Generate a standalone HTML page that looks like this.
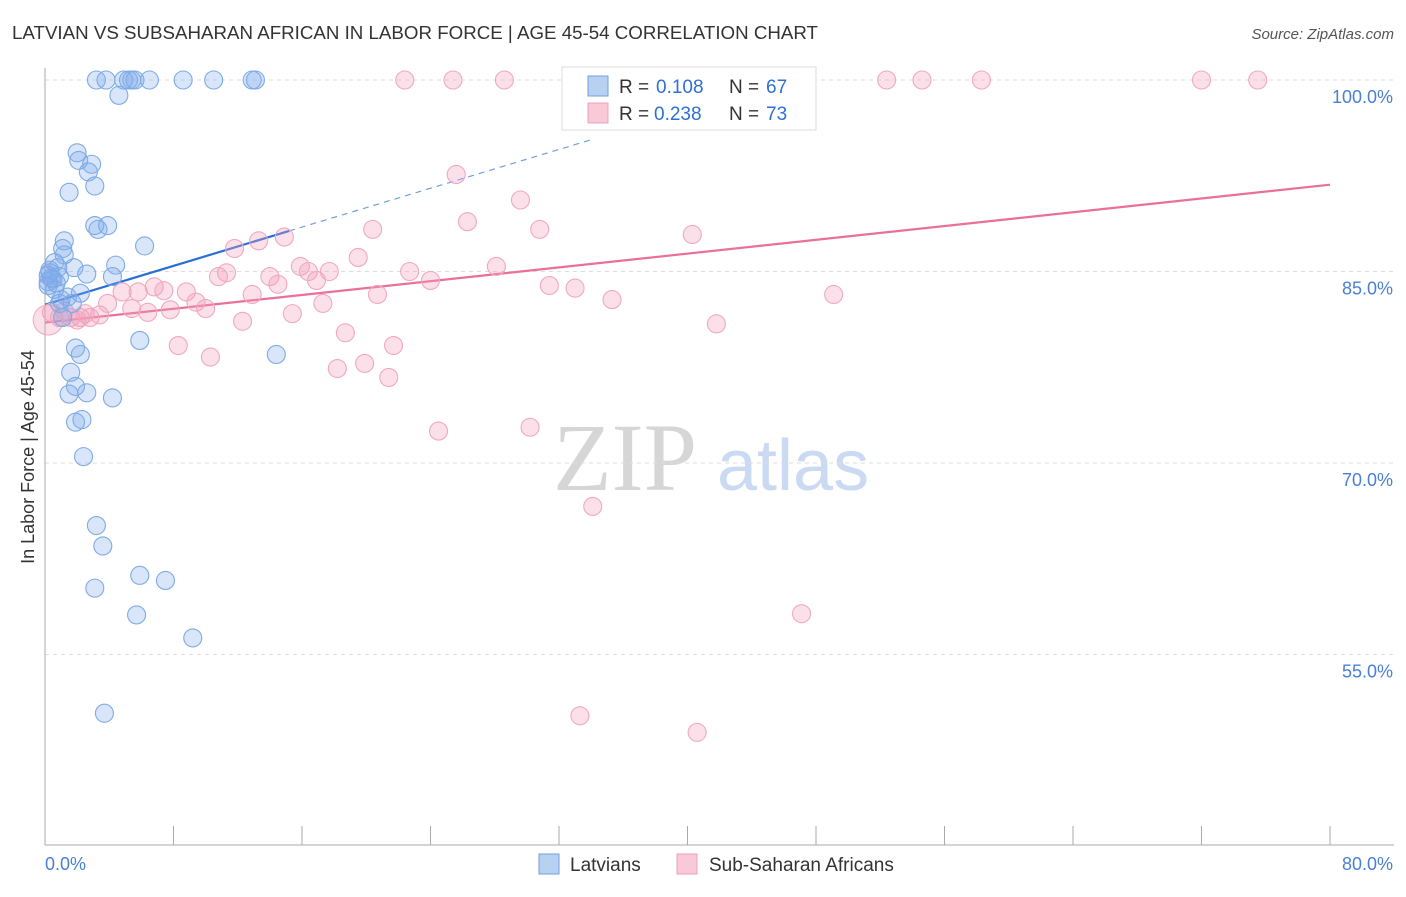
<!DOCTYPE html>
<html><head><meta charset="utf-8"><style>
body{margin:0;background:#fff;font-family:"Liberation Sans",sans-serif}
</style></head><body>
<svg id="chart" width="1406" height="892" xmlns="http://www.w3.org/2000/svg">
<text x="12" y="39" font-size="18" fill="#333" textLength="806" lengthAdjust="spacingAndGlyphs">LATVIAN VS SUBSAHARAN AFRICAN IN LABOR FORCE | AGE 45-54 CORRELATION CHART</text>
<text x="1394" y="39" font-size="15" fill="#555" font-style="italic" text-anchor="end">Source: ZipAtlas.com</text>
<text transform="translate(34,457) rotate(-90)" font-size="18" fill="#333" text-anchor="middle">In Labor Force | Age 45-54</text>
<g>
<text x="553" y="490" font-size="96" font-family="Liberation Serif,serif" fill="#d6d6d6">ZIP</text>
<text x="717" y="490" font-size="72" fill="#c9daf2">atlas</text>
</g>
<g id="grid"></g><g id="axes"></g><g id="lines"></g><g id="pts"></g>
<g>
<rect x="562" y="67" width="254" height="63" fill="#fff" stroke="#ddd"/>
<rect x="588" y="76" width="20" height="20" fill="#b8d1f3" stroke="#6fa0e0"/>
<rect x="588" y="103" width="20" height="20" fill="#f9c9d7" stroke="#eea0b8"/>
<g font-size="19">
<text x="619" y="93" fill="#333">R =</text><text x="656" y="93" fill="#2f6fd6">0.108</text>
<text x="729" y="93" fill="#333">N =</text><text x="766" y="93" fill="#2f6fd6">67</text></g>
<g font-size="19">
<text x="619" y="120" fill="#333">R =</text><text x="654" y="120" fill="#2f6fd6">0.238</text>
<text x="729" y="120" fill="#333">N =</text><text x="766" y="120" fill="#2f6fd6">73</text></g>
</g>
<g>
<rect x="539" y="854" width="20" height="20" fill="#b8d1f3" stroke="#6fa0e0"/>
<text x="570" y="871" font-size="19" fill="#333">Latvians</text>
<rect x="677" y="854" width="20" height="20" fill="#f9c9d7" stroke="#eea0b8"/>
<text x="709" y="871" font-size="19" fill="#333">Sub-Saharan Africans</text>
</g>
</svg>
<script>
const yTicks=[100,85,70,55];
const yTickLabels=["100.0%","85.0%","70.0%","55.0%"];
const xTicks=[0,8,16,24,32,40,48,56,64,72,80];
const xEndLabels=["0.0%","80.0%"];
const blueX=[3.2,3.8,4.9,5.2,5.4,5.6,6.5,8.6,10.5,12.9,13.1,4.6,2.0,2.1,2.9,2.7,3.1,1.5,3.1,3.3,3.9,6.2,1.2,1.1,1.2,0.6,0.3,0.8,0.2,0.4,0.9,1.8,2.6,4.4,4.2,0.2,0.6,1.4,1.7,2.2,0.9,1.1,5.9,14.4,1.9,2.2,1.6,1.9,1.5,2.6,4.2,2.3,1.9,2.4,3.2,3.6,5.9,7.5,3.1,5.7,9.2,3.7,0.3,0.5,0.2,1.0,0.7];
const blueY=[100,100,100,100,100,100,100,100,100,100,100,98.8,94.3,93.7,93.4,92.8,91.7,91.2,88.6,88.3,88.6,87.0,87.4,86.8,86.3,85.7,85.1,85.3,84.7,84.5,84.6,85.3,84.8,85.5,84.6,84.2,83.6,83.0,82.5,83.3,82.5,81.4,79.6,78.5,79.0,78.5,77.1,76.0,75.4,75.5,75.1,73.4,73.2,70.5,65.1,63.5,61.2,60.8,60.2,58.1,56.3,50.4,84.9,84.4,83.9,82.8,84.1];
const pinkX=[22.4,25.4,28.6,43.3,52.4,54.6,58.3,72.0,75.5,25.6,29.6,26.3,20.4,30.8,40.3,11.8,13.3,14.9,19.5,15.9,16.4,17.7,11.3,10.8,14.0,14.5,16.9,22.7,24.0,28.1,4.8,5.8,6.8,7.4,8.8,9.4,12.9,20.7,31.4,33.0,35.3,49.1,3.9,5.4,6.4,7.8,10.0,15.4,17.3,12.3,41.8,0.4,0.9,1.6,2.2,2.8,3.4,2.5,8.3,10.3,18.7,21.7,18.2,19.9,21.4,24.5,30.2,34.1,47.1,33.3,40.6,1.2,2.0];
const pinkY=[100,100,100,100,100,100,100,100,100,92.6,90.6,88.9,88.3,88.3,87.9,86.8,87.4,87.7,86.1,85.4,85.0,85.0,84.9,84.6,84.6,84.0,84.3,85.0,84.3,85.4,83.4,83.4,83.8,83.5,83.4,82.6,83.2,83.2,83.9,83.7,82.8,83.2,82.5,82.1,81.8,82.0,82.1,81.7,82.5,81.1,80.9,81.8,81.4,81.4,81.4,81.4,81.6,81.7,79.2,78.3,80.2,79.2,77.4,77.8,76.7,72.5,72.8,66.6,58.2,50.2,48.9,81.9,81.2];
const bigPink=[0.2,81.2];
const blueFit=[82.4,0.38,15.2,34.0];
const pinkFit=[81.0,0.135,80];
const NS="http://www.w3.org/2000/svg";
const xs=v=>45+v/80*1285, ys=v=>80+(100-v)/15*191.5;
function mk(tag,attrs,parent){const e=document.createElementNS(NS,tag);for(const k in attrs)e.setAttribute(k,attrs[k]);document.getElementById(parent).appendChild(e);return e;}
yTicks.forEach((t,i)=>{
 const g=mk('line',{x1:45,x2:1394,y1:ys(t),y2:ys(t),stroke:'#ddd','stroke-dasharray':'4,4'},'grid');
 
 
 const l=mk('text',{x:1393,y:ys(t)+23,'font-size':18,fill:'#4a7fd6','text-anchor':'end'},'axes');
 l.textContent=yTickLabels[i];
 
 
});
const ax=mk('line',{x1:45,x2:45,y1:68,y2:845,stroke:'#aaa'},'axes');


const bx=mk('line',{x1:45,x2:1394,y1:845,y2:845,stroke:'#aaa'},'axes');


xTicks.forEach(t=>{const e=mk('line',{x1:xs(t),x2:xs(t),y1:826,y2:845,stroke:'#aaa'},'axes');
 
 });
const xl0=mk('text',{x:45,y:870,'font-size':18,fill:'#4a7fd6'},'axes');xl0.textContent=xEndLabels[0];


const xl1=mk('text',{x:1393,y:870,'font-size':18,fill:'#4a7fd6','text-anchor':'end'},'axes');xl1.textContent=xEndLabels[1];


pinkX.forEach((x,i)=>{const c=mk('circle',{cx:xs(x),cy:ys(pinkY[i]),r:9,fill:'rgba(244,160,188,0.32)',stroke:'#f0a8c0','stroke-width':1.1},'pts');
 
 });
const bp=mk('circle',{cx:xs(bigPink[0]),cy:ys(bigPink[1]),r:15,fill:'rgba(244,160,188,0.32)',stroke:'#f0a8c0'},'pts');


blueX.forEach((x,i)=>{const c=mk('circle',{cx:xs(x),cy:ys(blueY[i]),r:9,fill:'rgba(130,172,235,0.3)',stroke:'#7eaae6','stroke-width':1.1},'pts');
 
 });
const bl=mk('line',{x1:xs(0),y1:ys(blueFit[0]),x2:xs(blueFit[2]),y2:ys(blueFit[0]+blueFit[1]*blueFit[2]),stroke:'#2a6fd6','stroke-width':2.2},'lines');


const bd=mk('line',{x1:xs(blueFit[2]),y1:ys(blueFit[0]+blueFit[1]*blueFit[2]),x2:xs(blueFit[3]),y2:ys(blueFit[0]+blueFit[1]*blueFit[3]),stroke:'#6fa0e0','stroke-width':1.2,'stroke-dasharray':'6,5'},'lines');


const pl=mk('line',{x1:xs(0),y1:ys(pinkFit[0]),x2:xs(pinkFit[2]),y2:ys(pinkFit[0]+pinkFit[1]*pinkFit[2]),stroke:'#e8709a','stroke-width':2.2},'lines');


</script>
</body></html>
